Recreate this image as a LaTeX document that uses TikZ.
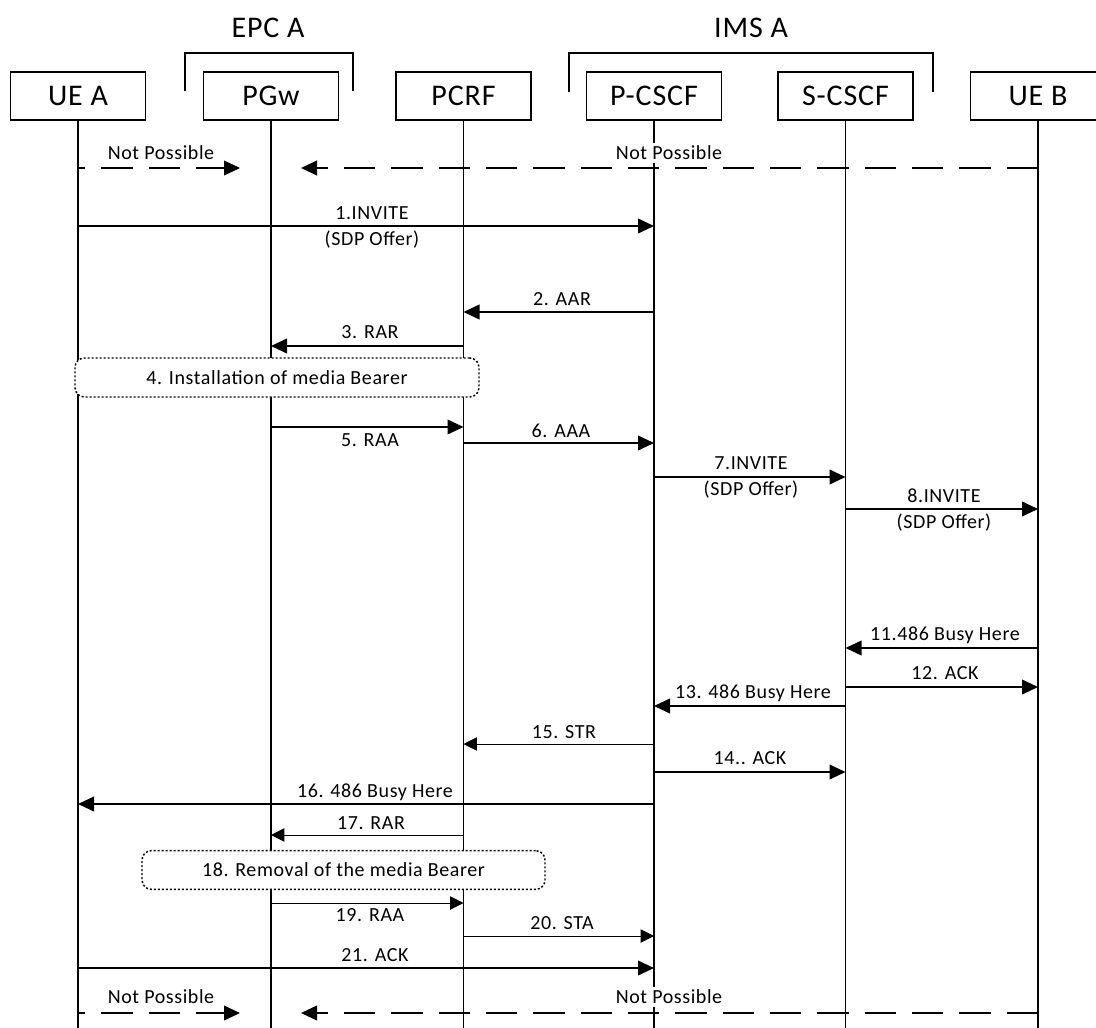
\documentclass[tikz,border=0pt]{standalone}
\usepackage{fontspec}
\setmainfont{Carlito}[LetterSpace=3]
\usetikzlibrary{arrows.meta}

\begin{document}
\begin{tikzpicture}[x=0.75pt,y=-0.75pt,
  lbl/.style={font=\fontsize{15pt}{18pt}\selectfont,inner sep=0pt},
  head/.style={font=\fontsize{22.5pt}{27pt}\selectfont,inner sep=0pt},
  ent/.style={draw,line width=1.35pt,fill=white,minimum width=101.25pt,minimum height=36pt,inner sep=0pt,font=\fontsize{22.5pt}{27pt}\selectfont},
  life/.style={line width=1.35pt},
  msg/.style={line width=1.35pt,-{Triangle[length=12pt,width=11pt]}},
  thinmsg/.style={line width=0.7pt,-{Triangle[length=10pt,width=10pt]}},
  nope/.style={line width=1.35pt,dash pattern=on 23.5pt off 12pt,-{Triangle[length=12pt,width=11pt]}},
  nopelbl/.style={lbl,fill=white,inner sep=2pt},
  stepbox/.style={draw,line width=1.1pt,dash pattern=on 1.5pt off 1.5pt,rounded corners=7pt,fill=white,inner sep=0pt,font=\fontsize{15pt}{18pt}\selectfont}]
\useasboundingbox (0,0) rectangle (1096,1028);

\node[head] (epc) at (268,28) {EPC A};
\node[head] (ims) at (751,28) {IMS A};
\draw[line width=1.35pt] (185,91) -- (185,53) -- (353,53) -- (353,91);
\draw[line width=1.35pt] (569,92) -- (569,53) -- (933,53) -- (933,92);

\node[ent] (uea) at (78,96) {UE A};
\node[ent] (pgw) at (271,96) {PGw};
\node[ent] (pcrf) at (463.5,96) {PCRF};
\node[ent] (pcscf) at (654,96) {P-CSCF};
\node[ent] (scscf) at (845.5,96) {S-CSCF};
\node[ent] (ueb) at (1038,96) {UE B};
\foreach \n in {uea,pgw,pcrf,pcscf,scscf,ueb}
  \draw[life] (\n.south) -- (\n.south |- 0,1028);

\coordinate (np1) at (240,168);
\coordinate (np2) at (301,168);
\node[nopelbl] (np1l) at (161,153) {Not Possible};
\node[nopelbl] (np2l) at (669,153) {Not Possible};
\draw[nope,dash phase=18pt] (uea |- 0,168) -- (np1);
\draw[nope] (ueb |- 0,168) -- (np2);

\draw[msg] (uea |- 0,226) -- (pcscf |- 0,226);
\node[lbl] (m1) at (372,213) {1.INVITE};
\node[lbl] (m1b) at (372,240) {(SDP Offer)};

\draw[msg] (pcscf |- 0,312) -- (pcrf |- 0,312);
\node[lbl] (m2) at (562,299) {2. AAR};

\draw[msg] (pcrf |- 0,346) -- (pgw |- 0,346);
\node[lbl] (m3) at (370,332) {3. RAR};

\node[stepbox,minimum width=303pt,minimum height=29.25pt] (inst) at (277,377.5) {4. Installation of media Bearer};

\draw[msg] (pgw |- 0,427) -- (pcrf |- 0,427);
\node[lbl] (m5) at (370,440) {5. RAA};

\draw[msg] (pcrf |- 0,443) -- (pcscf |- 0,443);
\node[lbl] (m6) at (561,431) {6. AAA};

\draw[msg] (pcscf |- 0,477) -- (scscf |- 0,477);
\node[lbl] (m7) at (751,463) {7.INVITE};
\node[lbl] (m7b) at (751,490) {(SDP Offer)};

\draw[msg] (scscf |- 0,509) -- (ueb |- 0,509);
\node[lbl] (m8) at (944,496) {8.INVITE};
\node[lbl] (m8b) at (944,523) {(SDP Offer)};

\draw[msg] (ueb |- 0,648) -- (scscf |- 0,648);
\node[lbl] (m11) at (945,635) {11.486 Busy Here};

\draw[msg] (scscf |- 0,687) -- (ueb |- 0,687);
\node[lbl] (m12) at (945,673) {12. ACK};

\draw[msg] (scscf |- 0,706) -- (pcscf |- 0,706);
\node[lbl] (m13) at (753,693) {13. 486 Busy Here};

\draw[thinmsg] (pcscf |- 0,744) -- (pcrf |- 0,744);
\node[lbl] (m15) at (564,732) {15. STR};

\draw[msg] (pcscf |- 0,772) -- (scscf |- 0,772);
\node[lbl] (m14) at (750,758) {14.. ACK};

\draw[msg] (pcscf |- 0,804) -- (uea |- 0,804);
\node[lbl] (m16) at (375,792) {16. 486 Busy Here};

\draw[thinmsg] (pcrf |- 0,835) -- (pgw |- 0,835);
\node[lbl] (m17) at (371,823) {17. RAR};

\node[stepbox,minimum width=302.25pt,minimum height=29pt] (remv) at (343.5,870) {18. Removal of the media Bearer};

\draw[thinmsg] (pgw |- 0,903) -- (pcrf |- 0,903);
\node[lbl] (m19) at (370,915) {19. RAA};

\draw[thinmsg] (pcrf |- 0,936) -- (pcscf |- 0,936);
\node[lbl] (m20) at (562,923) {20. STA};

\draw[msg] (uea |- 0,968) -- (pcscf |- 0,968);
\node[lbl] (m21) at (375,955) {21. ACK};

\coordinate (np3) at (240,1013);
\coordinate (np4) at (301,1013);
\node[nopelbl] (np3l) at (161,997) {Not Possible};
\node[nopelbl] (np4l) at (669,997) {Not Possible};
\draw[nope,dash phase=18pt] (uea |- 0,1013) -- (np3);
\draw[nope] (ueb |- 0,1013) -- (np4);
\end{tikzpicture}
\end{document}
